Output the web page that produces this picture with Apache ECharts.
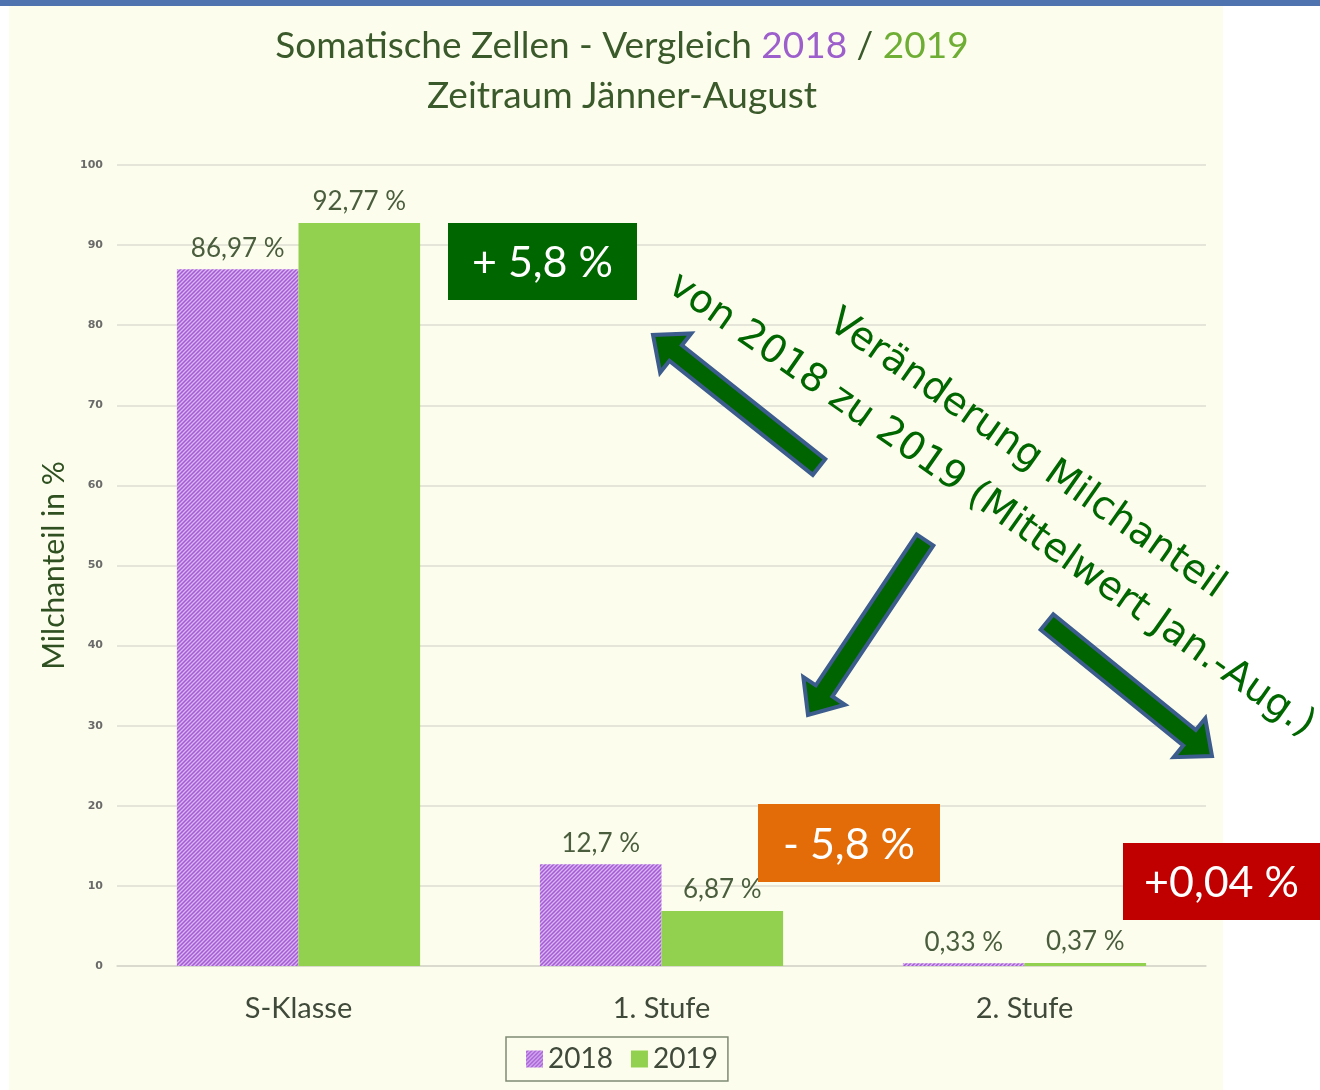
<!DOCTYPE html>
<html>
<head>
<meta charset="utf-8">
<script src="https://cdn.jsdelivr.net/npm/echarts@6/dist/echarts.min.js"></script>
<style>
  html, body { margin: 0; padding: 0; background: #fff; }
  #main { width: 1320px; height: 1090px; }
</style>
</head>
<body>
<div id="main"></div>
<script>
var categories = ['S-Klasse', '1. Stufe', '2. Stufe'];
var values2018 = [86.97, 12.7, 0.33];
var values2019 = [92.77, 6.87, 0.37];
var seriesNames = ['2018', '2019'];
var changeLabels = ['+ 5,8 %', '- 5,8 %', '+0,04 %'];

var dom = document.getElementById('main');
var myChart = echarts.init(dom);

// purple hatch like the excel pattern fill
var hatch = document.createElement('canvas');
hatch.width = 4; hatch.height = 4;
var ctx = hatch.getContext('2d');
ctx.fillStyle = '#a65ad4';
ctx.fillRect(0, 0, 4, 4);
ctx.strokeStyle = '#d8b6f3';
ctx.lineWidth = 1.3;
ctx.beginPath();
ctx.moveTo(-1, 5); ctx.lineTo(5, -1);
ctx.moveTo(-3, 3); ctx.lineTo(3, -3);
ctx.moveTo(1, 7); ctx.lineTo(7, 1);
ctx.stroke();

var dark = '#3b5a2b';
var font = 'Lato, "Open Sans", sans-serif';

function fmt(p) {
    return String(p.value).replace('.', ',') + ' %';
}

function arrow(tail, tip) {
    var dx = tip[0] - tail[0], dy = tip[1] - tail[1];
    var len = Math.sqrt(dx * dx + dy * dy);
    var ux = dx / len, uy = dy / len;
    var nx = -uy, ny = ux;
    var w = 10, h = 25, L = 29;
    var bx = tip[0] - ux * L, by = tip[1] - uy * L;
    return {
        type: 'polygon',
        shape: {
            points: [
                [tail[0] + nx * w, tail[1] + ny * w],
                [bx + nx * w, by + ny * w],
                [bx + nx * h, by + ny * h],
                tip,
                [bx - nx * h, by - ny * h],
                [bx - nx * w, by - ny * w],
                [tail[0] - nx * w, tail[1] - ny * w]
            ]
        },
        style: { fill: '#006400', stroke: '#3c5c8e', lineWidth: 4, lineJoin: 'miter' },
        z: 10
    };
}

function box(x, y, w, h, color, text) {
    return {
        type: 'group',
        x: x, y: y, z: 10,
        children: [
            { type: 'rect', shape: { x: 0, y: 0, width: w, height: h }, style: { fill: color }, z: 10 },
            { type: 'text', x: w / 2, y: h / 2 + 2, z: 11,
              style: { text: text, fill: '#fff', fontFamily: 'Lato', fontSize: 43,
                       textAlign: 'center', textVerticalAlign: 'middle' } }
        ]
    };
}

var rot = -35 * Math.PI / 180;

option = {
    backgroundColor: '#fdfded',
    animation: false,
    title: {
        left: 617,
        top: 16,
        textAlign: 'center',
        text: '{a|Somatische Zellen - Vergleich }{p|2018}{a| / }{g|2019}\n{a|Zeitraum Jänner-August}',
        textStyle: {
            rich: {
                a: { fontFamily: font, fontSize: 37, fontWeight: 'normal', color: dark, lineHeight: 50 },
                p: { fontFamily: font, fontSize: 37, fontWeight: 'normal', color: '#9d5fcc', lineHeight: 50 },
                g: { fontFamily: font, fontSize: 37, fontWeight: 'normal', color: '#6fae34', lineHeight: 50 }
            }
        }
    },
    legend: {
        data: seriesNames,
        left: 506,
        top: 1037,
        padding: [8, 10, 8, 20],
        borderColor: '#7d8a74',
        borderWidth: 1.5,
        itemWidth: 17,
        itemHeight: 17,
        itemGap: 18,
        icon: 'rect',
        textStyle: { fontFamily: font, fontSize: 28, color: '#404a3a' }
    },
    grid: { left: 117, right: 114, top: 165, bottom: 124 },
    xAxis: {
        type: 'category',
        data: categories,
        axisLine: { lineStyle: { color: '#d6d6cc', width: 1.5 } },
        axisTick: { show: false },
        axisLabel: { fontFamily: font, fontSize: 29, color: '#404a3a', margin: 28 }
    },
    yAxis: {
        type: 'value',
        min: 0,
        max: 100,
        interval: 10,
        name: 'Milchanteil in %',
        nameLocation: 'middle',
        nameGap: 44,
        nameTextStyle: { fontFamily: font, fontSize: 30, color: '#2f5020' },
        axisLine: { show: false },
        axisTick: { show: false },
        axisLabel: { fontFamily: 'DejaVu Sans, sans-serif', fontSize: 11, fontWeight: 'bold', color: '#6a6a6a', margin: 14 },
        splitLine: { lineStyle: { color: '#dcdcd2', width: 1.5 } }
    },
    series: [
        {
            name: seriesNames[0],
            type: 'bar',
            data: values2018,
            barGap: '0%',
            barCategoryGap: '33%',
            itemStyle: { color: { image: hatch, repeat: 'repeat' } },
            label: { show: true, position: 'top', distance: 8, formatter: fmt,
                     fontFamily: font, fontSize: 26, color: '#4a5e3e' }
        },
        {
            name: seriesNames[1],
            type: 'bar',
            data: values2019,
            itemStyle: { color: '#92d050' },
            label: { show: true, position: 'top', distance: 8, formatter: fmt,
                     fontFamily: font, fontSize: 26, color: '#4a5e3e' }
        }
    ],
    graphic: [
        { type: 'rect', shape: { x: 0, y: 0, width: 9, height: 1090 }, style: { fill: '#fff' }, z: 5 },
        { type: 'rect', shape: { x: 1223, y: 0, width: 97, height: 1090 }, style: { fill: '#fff' }, z: 5 },
        { type: 'rect', shape: { x: 0, y: 0, width: 1320, height: 6 }, style: { fill: '#4f73ae' }, z: 5 },
        arrow([819, 467], [653, 335]),
        arrow([925, 540], [808, 715]),
        arrow([1047, 622], [1212, 756]),
        {
            type: 'group',
            x: 672, y: 282,
            rotation: rot,
            z: 10,
            children: [
                { type: 'text', x: 152, y: -62, z: 10,
                  style: { text: 'Veränderung Milchanteil', fill: '#006600',
                           fontFamily: 'DejaVu Sans', fontSize: 39, textAlign: 'left', textVerticalAlign: 'middle' } },
                { type: 'text', x: 0, y: 0, z: 10,
                  style: { text: 'von 2018 zu 2019 (Mittelwert Jan.-Aug.)', fill: '#006600',
                           fontFamily: 'DejaVu Sans', fontSize: 39, textAlign: 'left', textVerticalAlign: 'middle' } }
            ]
        },
        box(448, 223, 189, 77, '#006600', changeLabels[0]),
        box(758, 804, 182, 78, '#e36c09', changeLabels[1]),
        box(1123, 843, 197, 77, '#c00000', changeLabels[2])
    ]
};

if (option && typeof option === 'object') {
    myChart.setOption(option, true);
}
</script>
</body>
</html>
